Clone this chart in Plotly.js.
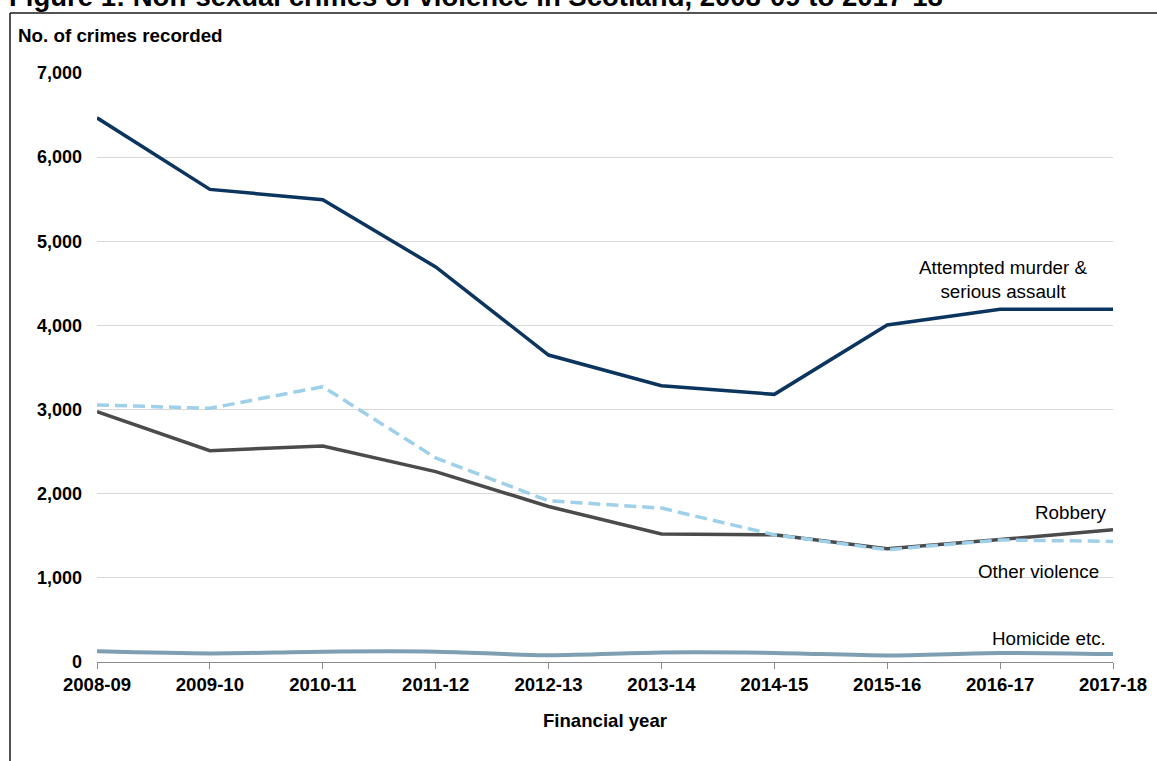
<!DOCTYPE html>
<html>
<head>
<meta charset="utf-8">
<script src="https://cdn.plot.ly/plotly-3.0.1.min.js"></script>
<style>
  html, body { margin: 0; padding: 0; background: #ffffff; }
  #chart { width: 1157px; height: 761px; }
</style>
</head>
<body>
<div id="chart"></div>
<script>
// ---- Data ----
const years = ["2008-09", "2009-10", "2010-11", "2011-12", "2012-13",
               "2013-14", "2014-15", "2015-16", "2016-17", "2017-18"];
const attemptedMurder = [6467, 5617, 5495, 4695, 3648, 3284, 3181, 4005, 4193, 4193];
const otherViolence   = [3055, 3015, 3272, 2426, 1916, 1829, 1512, 1335, 1450, 1433];
const robbery         = [2975, 2512, 2568, 2263, 1848, 1521, 1512, 1346, 1455, 1572];
const homicide        = [127, 102, 123, 123, 81, 113, 108, 78, 108, 95];

const seriesNames = ["Attempted murder & serious assault", "Robbery", "Other violence", "Homicide etc."];
const yTickVals = [0, 1000, 2000, 3000, 4000, 5000, 6000, 7000];

// ---- Layout geometry helpers (pixel -> paper) ----
const M = { l: 97, r: 44, t: 73, b: 99 };
const W = 1157, H = 761;
const PW = W - M.l - M.r, PH = H - M.t - M.b;
const xp = px => (px - M.l) / PW;
const yp = py => (H - M.b - py) / PH;

const FONT = "Liberation Sans, Arial, sans-serif";

const traces = [
  { x: years, y: attemptedMurder, name: seriesNames[0], type: "scatter", mode: "lines",
    line: { color: "#0b355f", width: 3.5 } },
  { x: years, y: robbery, name: seriesNames[1], type: "scatter", mode: "lines",
    line: { color: "#4b4b4b", width: 3.5 } },
  { x: years, y: otherViolence, name: seriesNames[2], type: "scatter", mode: "lines",
    line: { color: "#9fd0ea", width: 3.5, dash: "12px,6px" } },
  { x: years, y: homicide, name: seriesNames[3], type: "scatter", mode: "lines",
    line: { color: "#7e9fb2", width: 4, shape: "spline", smoothing: 0.8 } }
];

const layout = {
  width: W, height: H,
  margin: M,
  paper_bgcolor: "#ffffff",
  plot_bgcolor: "#ffffff",
  showlegend: false,
  font: { family: FONT, color: "#000000", size: 18 },
  xaxis: {
    type: "category",
    categoryorder: "array",
    categoryarray: years,
    range: [0, years.length - 1],
    automargin: false,
    showgrid: false,
    zeroline: false,
    showline: true,
    linecolor: "#8a8a8a",
    linewidth: 1,
    ticks: "outside",
    ticklen: 6,
    tickcolor: "#8a8a8a",
    tickfont: { family: FONT, size: 18.6, weight: "bold", color: "#000" },
    title: { text: "Financial year", standoff: 19,
             font: { family: FONT, size: 18.6, weight: "bold", color: "#000" } },
    fixedrange: true
  },
  yaxis: {
    range: [0, 7000],
    tickvals: yTickVals,
    tickformat: ",",
    automargin: false,
    showgrid: true,
    gridcolor: "#d9d9d9",
    gridwidth: 1,
    zeroline: false,
    showline: false,
    ticks: "",
    ticklabelstandoff: 14,
    tickfont: { family: FONT, size: 18, weight: "bold", color: "#000" },
    fixedrange: true
  },
  shapes: [
    { type: "line", xref: "paper", yref: "paper",
      x0: xp(10), x1: xp(1160), y0: yp(13), y1: yp(13),
      line: { color: "#1a1a1a", width: 1.5 } },
    { type: "line", xref: "paper", yref: "paper",
      x0: xp(10), x1: xp(10), y0: yp(13), y1: yp(765),
      line: { color: "#1a1a1a", width: 1.5 } }
  ],
  annotations: [
    { text: "Figure 1: Non-sexual crimes of violence in Scotland, 2008-09 to 2017-18",
      xref: "paper", yref: "paper", x: xp(7), y: yp(-3), xanchor: "left", yanchor: "middle",
      showarrow: false, font: { family: FONT, size: 27.5, weight: "bold", color: "#000" } },
    { text: "No. of crimes recorded",
      xref: "paper", yref: "paper", x: xp(16), y: yp(35), xanchor: "left", yanchor: "middle",
      showarrow: false, font: { family: FONT, size: 18.8, weight: "bold", color: "#000" } },
    { text: "Attempted murder &<br>serious assault",
      xref: "paper", yref: "paper", x: xp(1003), y: yp(279), xanchor: "center", yanchor: "middle",
      align: "center", showarrow: false, font: { family: FONT, size: 18.8, color: "#000" } },
    { text: "Robbery",
      xref: "paper", yref: "paper", x: xp(1109), y: yp(512), xanchor: "right", yanchor: "middle",
      showarrow: false, font: { family: FONT, size: 18.8, color: "#000" } },
    { text: "Other violence",
      xref: "paper", yref: "paper", x: xp(1101), y: yp(571), xanchor: "right", yanchor: "middle",
      showarrow: false, font: { family: FONT, size: 18.8, color: "#000" } },
    { text: "Homicide etc.",
      xref: "paper", yref: "paper", x: xp(1108), y: yp(638), xanchor: "right", yanchor: "middle",
      showarrow: false, font: { family: FONT, size: 18.8, color: "#000" } }
  ]
};

Plotly.newPlot("chart", traces, layout, { displayModeBar: false, staticPlot: true });
</script>
</body>
</html>
